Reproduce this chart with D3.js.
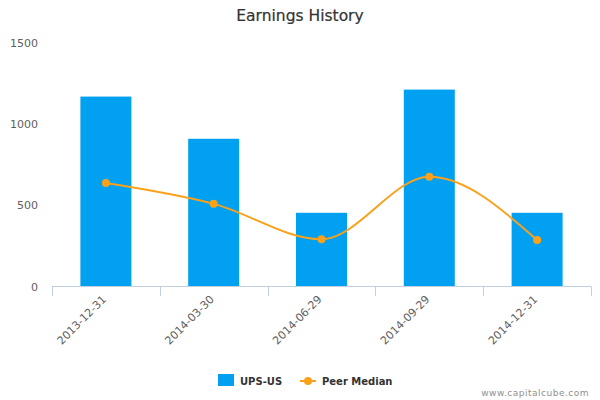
<!DOCTYPE html>
<html>
<head>
<meta charset="utf-8">
<script src="https://cdn.jsdelivr.net/npm/d3@7"></script>
<style>
  body { margin: 0; background: #fff; }
  text { font-family: "DejaVu Sans", Verdana, sans-serif; }
</style>
</head>
<body>
<script>
const width = 600;
const height = 400;

const dates = ['2013-12-31', '2014-03-30', '2014-06-29', '2014-09-29', '2014-12-31'];
const upsValues = [1170, 910, 454, 1213, 454];
const peerMedian = [637, 509, 291, 676, 287];
const yTicks = [0, 500, 1000, 1500];

const barColor = '#01a0f1';
const lineColor = '#f9a11b';

const margin = { left: 52, right: 10, top: 43, bottom: 114 };

const svg = d3.select('body')
  .append('svg')
    .attr('width', width)
    .attr('height', height);

const x = d3.scaleBand()
  .domain(dates)
  .range([margin.left, 591])
  .paddingInner(0)
  .paddingOuter(0);

const y = d3.scaleLinear()
  .domain([0, 1500])
  .range([286.5, margin.top]);

// title
svg.append('text')
  .attr('x', 300)
  .attr('y', 21)
  .attr('text-anchor', 'middle')
  .attr('fill', '#333')
  .attr('stroke', '#333')
  .attr('stroke-width', 0.2)
  .style('font-size', '15.5px')
  .text('Earnings History');

// y axis labels (no grid lines)
svg.append('g')
  .selectAll('text')
  .data(yTicks)
  .join('text')
    .attr('x', 38)
    .attr('y', d => y(d) + 4)
    .attr('text-anchor', 'end')
    .attr('fill', '#606060')
    .style('font-size', '11px')
    .text(d => d);

// bars
const barW = 51;
svg.append('g')
  .selectAll('rect')
  .data(upsValues)
  .join('rect')
    .attr('x', (d, i) => x(dates[i]) + x.bandwidth() / 2 - barW / 2)
    .attr('y', d => y(d))
    .attr('width', barW)
    .attr('height', d => y(0) - y(d))
    .attr('fill', barColor);

// x axis
const xAxis = svg.append('g');
xAxis.append('line')
  .attr('x1', margin.left)
  .attr('x2', 591)
  .attr('y1', 286.5)
  .attr('y2', 286.5)
  .attr('stroke', '#c0d0e0');

const tickPos = dates.map(d => x(d)).concat([x(dates[dates.length - 1]) + x.bandwidth()]);
xAxis.selectAll('line.tick')
  .data(tickPos)
  .join('line')
    .attr('class', 'tick')
    .attr('x1', d => Math.round(d) + 0.5)
    .attr('x2', d => Math.round(d) + 0.5)
    .attr('y1', 286.5)
    .attr('y2', 296)
    .attr('stroke', '#c0d0e0');

xAxis.selectAll('text')
  .data(dates)
  .join('text')
    .attr('transform', d => `translate(${x(d) + x.bandwidth() / 2 + 1},${300}) rotate(-45)`)
    .attr('text-anchor', 'end')
    .attr('fill', '#606060')
    .style('font-size', '11px')
    .text(d => d);

// peer median spline
const line = d3.line()
  .x((d, i) => x(dates[i]) + x.bandwidth() / 2)
  .y(d => y(d))
  .curve(d3.curveMonotoneX);

svg.append('path')
  .datum(peerMedian)
  .attr('d', line)
  .attr('fill', 'none')
  .attr('stroke', lineColor)
  .attr('stroke-width', 2);

svg.append('g')
  .selectAll('circle')
  .data(peerMedian)
  .join('circle')
    .attr('cx', (d, i) => x(dates[i]) + x.bandwidth() / 2)
    .attr('cy', d => y(d))
    .attr('r', 4)
    .attr('fill', lineColor);

// legend
const legend = svg.append('g');
legend.append('rect')
  .attr('x', 218)
  .attr('y', 374)
  .attr('width', 16)
  .attr('height', 12)
  .attr('fill', barColor);
legend.append('text')
  .attr('x', 240)
  .attr('y', 384.5)
  .attr('fill', '#333')
  .style('font-size', '10px')
  .style('font-weight', 'bold')
  .text('UPS-US');
legend.append('line')
  .attr('x1', 300)
  .attr('x2', 316)
  .attr('y1', 381)
  .attr('y2', 381)
  .attr('stroke', lineColor)
  .attr('stroke-width', 2);
legend.append('circle')
  .attr('cx', 308)
  .attr('cy', 381)
  .attr('r', 4)
  .attr('fill', lineColor);
legend.append('text')
  .attr('x', 322)
  .attr('y', 384.5)
  .attr('fill', '#333')
  .style('font-size', '10px')
  .style('font-weight', 'bold')
  .text('Peer Median');

// credits
svg.append('text')
  .attr('x', 589)
  .attr('y', 396)
  .attr('text-anchor', 'end')
  .attr('fill', '#909090')
  .style('font-size', '9px')
  .style('letter-spacing', '0.5px')
  .text('www.capitalcube.com');
</script>
</body>
</html>
